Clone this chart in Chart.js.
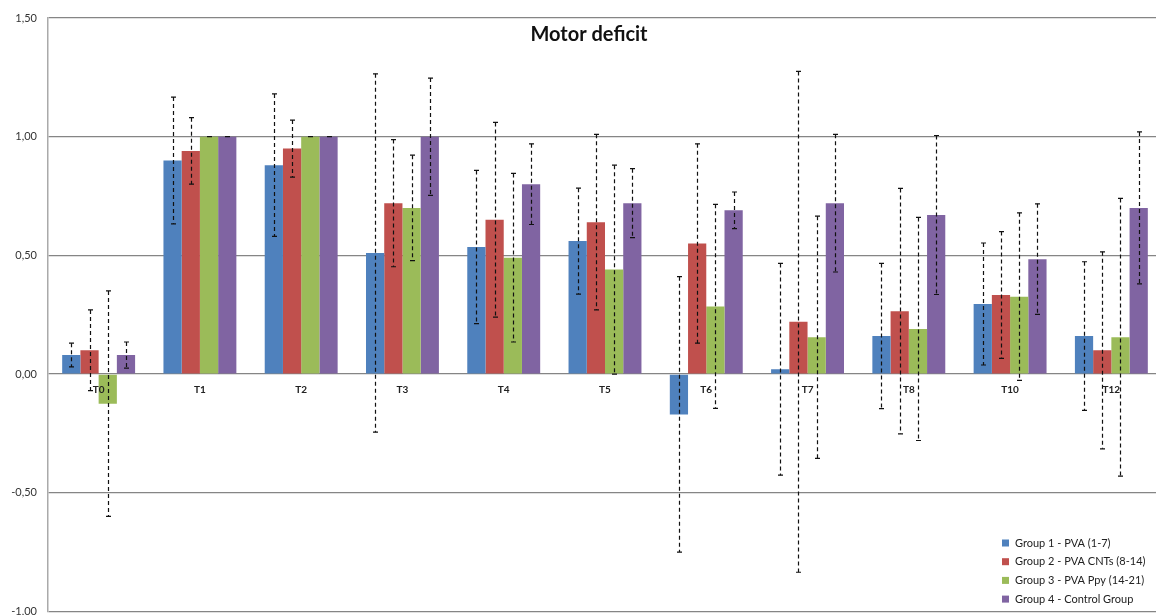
<!DOCTYPE html>
<html>
<head>
<meta charset="utf-8">
<script src="https://cdn.jsdelivr.net/npm/chart.js@4"></script>
<style>
html,body{margin:0;padding:0;overflow:hidden;background:#fff;}
#wrap{width:1164px;height:629px;position:relative;}
</style>
</head>
<body>
<div id="wrap"><canvas id="c"></canvas></div>
<script>
const categories = ['T0','T1','T2','T3','T4','T5','T6','T7','T8','T10','T12'];
const seriesNames = ['Group 1 - PVA (1-7)','Group 2 - PVA CNTs (8-14)','Group 3 - PVA Ppy (14-21)','Group 4 - Control Group'];
const group1 = [0.08, 0.90, 0.88, 0.51, 0.535, 0.56, -0.17, 0.02, 0.16, 0.295, 0.16];
const group2 = [0.10, 0.94, 0.95, 0.72, 0.65, 0.64, 0.55, 0.22, 0.265, 0.333, 0.10];
const group3 = [-0.125, 1.00, 1.00, 0.70, 0.49, 0.44, 0.285, 0.155, 0.19, 0.326, 0.155];
const group4 = [0.08, 1.00, 1.00, 1.00, 0.80, 0.72, 0.69, 0.72, 0.67, 0.484, 0.70];
const err1 = [0.05, 0.267, 0.30, 0.755, 0.323, 0.223, 0.58, 0.446, 0.306, 0.257, 0.313];
const err2 = [0.17, 0.14, 0.12, 0.268, 0.41, 0.37, 0.42, 1.055, 0.517, 0.267, 0.415];
const err3 = [0.475, 0, 0, 0.222, 0.355, 0.44, 0.43, 0.51, 0.47, 0.353, 0.585];
const err4 = [0.055, 0, 0, 0.247, 0.17, 0.145, 0.077, 0.29, 0.335, 0.233, 0.32];
const yTicks = [-1.0, -0.5, 0, 0.5, 1.0, 1.5];
const title = 'Motor deficit';

const colors = ['#4F81BD','#C0504D','#9BBB59','#8064A2'];
const values = [group1, group2, group3, group4];
const errors = [err1, err2, err3, err4];

const FONT = 'Lato, "Open Sans", sans-serif';

const errorBars = {
  id: 'errorBars',
  afterDatasetsDraw(chart) {
    const ctx = chart.ctx;
    const ys = chart.scales.y;
    const xs = chart.scales.x;
    ctx.save();
    ctx.fillStyle = '#222';
    ctx.font = 'bold 10px ' + FONT;
    ctx.textAlign = 'center';
    ctx.textBaseline = 'middle';
    const y0 = ys.getPixelForValue(0);
    categories.forEach((c, i) => ctx.fillText(c, xs.getPixelForTick(i), y0 + 16));
    ctx.strokeStyle = '#111';
    ctx.lineWidth = 1.2;
    chart.data.datasets.forEach((ds, i) => {
      const meta = chart.getDatasetMeta(i);
      meta.data.forEach((bar, j) => {
        const v = ds.data[j], e = errors[i][j];
        const x = Math.round(bar.x) + 0.5;
        const yt = ys.getPixelForValue(v + e);
        const yb = ys.getPixelForValue(v - e);
        ctx.setLineDash([4, 3]);
        ctx.beginPath(); ctx.moveTo(x, yt); ctx.lineTo(x, yb); ctx.stroke();
        ctx.setLineDash([]);
        ctx.beginPath();
        ctx.moveTo(x - 2.5, yt); ctx.lineTo(x + 2.5, yt);
        ctx.moveTo(x - 2.5, yb); ctx.lineTo(x + 2.5, yb);
        ctx.stroke();
      });
    });
    ctx.restore();
  }
};

const overlay = {
  id: 'overlay',
  afterDraw(chart) {
    const ctx = chart.ctx;
    ctx.save();
    ctx.fillStyle = '#111';
    ctx.font = 'bold 20px ' + FONT;
    ctx.textAlign = 'center';
    ctx.textBaseline = 'middle';
    ctx.fillText(title, 589, 35);
    ctx.font = '11px ' + FONT;
    ctx.textAlign = 'left';
    chart.data.datasets.forEach((ds, i) => {
      const y = 543 + i * 18.7;
      ctx.fillStyle = colors[i];
      ctx.fillRect(1002, y - 3.5, 7, 7);
      ctx.fillStyle = '#222';
      ctx.fillText(ds.label, 1015, y);
    });
    ctx.restore();
  }
};

new Chart(document.getElementById('c'), {
  type: 'bar',
  data: {
    labels: categories,
    datasets: seriesNames.map((n, i) => ({
      label: n,
      data: values[i],
      backgroundColor: colors[i],
      borderWidth: 0,
      barPercentage: 1.0,
      categoryPercentage: 0.72
    }))
  },
  options: {
    responsive: true,
    maintainAspectRatio: false,
    animation: false,
    devicePixelRatio: 1,
    layout: { padding: { top: 18, bottom: 4, right: 2, left: 0 } },
    plugins: { legend: { display: false }, title: { display: false }, tooltip: { enabled: false } },
    scales: {
      x: {
        position: { y: 0 },
        grid: { display: false },
        border: { display: false },
        ticks: { display: false }
      },
      y: {
        min: -1, max: 1.5,
        afterBuildTicks(axis) { axis.ticks = yTicks.map(v => ({ value: v })); },
        afterFit(axis) { axis.width = 48; },
        grid: { color: '#858585', lineWidth: 1.2, drawTicks: false },
        border: { color: '#aaaaaa', width: 1.5 },
        ticks: {
          font: { family: FONT, size: 11 }, color: '#333', padding: 11,
          callback: v => v.toFixed(2).replace('.', ',')
        }
      }
    }
  },
  plugins: [errorBars, overlay]
});
</script>
</body>
</html>
